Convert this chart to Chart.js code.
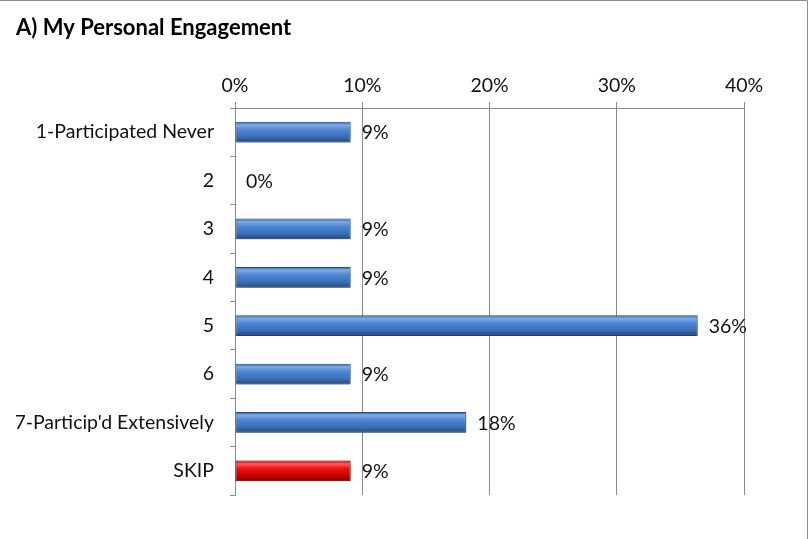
<!DOCTYPE html>
<html>
<head>
<meta charset="utf-8">
<title>A) My Personal Engagement</title>
<script src="https://cdn.jsdelivr.net/npm/chart.js@4/dist/chart.umd.min.js"></script>
<style>
  html, body { margin: 0; padding: 0; background: #fff; }
  canvas { display: block; }
</style>
</head>
<body>
<canvas id="chart" width="809" height="539"></canvas>
<script>
// survey answers, share of respondents in percent
const categories = ['1-Participated Never', '2', '3', '4', '5', '6', "7-Particip'd Extensively", 'SKIP'];
const shares = [9.09, 0, 9.09, 9.09, 36.36, 9.09, 18.18, 9.09];
const xTicks = [0, 10, 20, 30, 40];

const FONT = 'Lato, "Liberation Sans", sans-serif';
const GRID = '#8a8a8a';
const BAR_PCT = 0.43;

const blueStops = ['#30609f', '#7eaaea', '#4f86d2', '#3a6fb8', '#21477c'];
const redStops  = ['#a80000', '#ff5a5a', '#ee1414', '#cc0000', '#800000'];

// vertical "tube" gradient for each bar, built from the y scale position
function barFill(c) {
  const stops = categories[c.dataIndex] === 'SKIP' ? redStops : blueStops;
  const y = c.chart.scales.y;
  if (!y || y.top == null) return stops[2];
  const cy = y.getPixelForValue(c.dataIndex);
  const h = (y.height / categories.length) * BAR_PCT / 2;
  const g = c.chart.ctx.createLinearGradient(0, cy - h, 0, cy + h);
  [0, 0.16, 0.38, 0.72, 1].forEach((p, i) => g.addColorStop(p, stops[i]));
  return g;
}

const barShadow = {
  id: 'barShadow',
  beforeDatasetDraw(chart) {
    const ctx = chart.ctx;
    ctx.save();
    ctx.shadowColor = 'rgba(0,0,0,0.3)';
    ctx.shadowBlur = 4;
    ctx.shadowOffsetX = 1;
    ctx.shadowOffsetY = 2;
  },
  afterDatasetDraw(chart) { chart.ctx.restore(); }
};

const valueLabels = {
  id: 'valueLabels',
  afterDatasetsDraw(chart) {
    const ctx = chart.ctx;
    ctx.save();
    ctx.font = '19.5px ' + FONT;
    ctx.fillStyle = '#111';
    ctx.textAlign = 'left';
    ctx.textBaseline = 'middle';
    chart.getDatasetMeta(0).data.forEach((el, i) => {
      ctx.fillText(Math.round(shares[i]) + '%', el.x + 11, el.y + 1);
    });
    ctx.restore();
  }
};

const frame = {
  id: 'frame',
  afterDraw(chart) {
    const ctx = chart.ctx;
    ctx.save();
    ctx.strokeStyle = '#8c8c8c';
    ctx.lineWidth = 1;
    ctx.beginPath();
    ctx.moveTo(0, 0.5);
    ctx.lineTo(807.5, 0.5);
    ctx.lineTo(807.5, 539);
    ctx.stroke();
    ctx.restore();
  }
};

new Chart(document.getElementById('chart'), {
  type: 'bar',
  data: {
    labels: categories,
    datasets: [{
      data: shares,
      backgroundColor: barFill,
      borderColor: c => categories[c.dataIndex] === 'SKIP' ? '#7a0000' : '#254f86',
      borderWidth: c => shares[c.dataIndex] === 0 ? 0 : 1,
      borderSkipped: false,
      barPercentage: BAR_PCT,
      categoryPercentage: 1
    }]
  },
  options: {
    responsive: false,
    animation: false,
    indexAxis: 'y',
    layout: { padding: { top: 15, left: 16, right: 65, bottom: 44 } },
    plugins: {
      legend: { display: false },
      tooltip: { enabled: false },
      title: {
        display: true,
        text: 'A) My Personal Engagement',
        align: 'start',
        color: '#000',
        font: { family: FONT, size: 22, weight: 'bold', lineHeight: 1.2 },
        padding: 0
      }
    },
    scales: {
      x: {
        position: 'top',
        min: 0,
        max: 40,
        afterBuildTicks: s => { s.ticks = xTicks.map(v => ({ value: v })); },
        afterFit: s => { s.height = 108 - 15 - 26.4; },
        ticks: {
          color: '#111',
          padding: 5,
          font: { family: FONT, size: 19.5, lineHeight: 1.2 },
          callback: v => v + '%'
        },
        grid: { color: GRID, tickColor: GRID, tickLength: 6, lineWidth: 1 },
        border: { color: GRID }
      },
      y: {
        afterFit: s => { s.width = 235 - 16; },
        ticks: {
          color: '#111',
          padding: 16,
          font: { family: FONT, size: 19.5 }
        },
        grid: { offset: true, drawOnChartArea: false, color: GRID, tickLength: 5 },
        border: { color: GRID }
      }
    }
  },
  plugins: [barShadow, valueLabels, frame]
});
</script>
</body>
</html>
